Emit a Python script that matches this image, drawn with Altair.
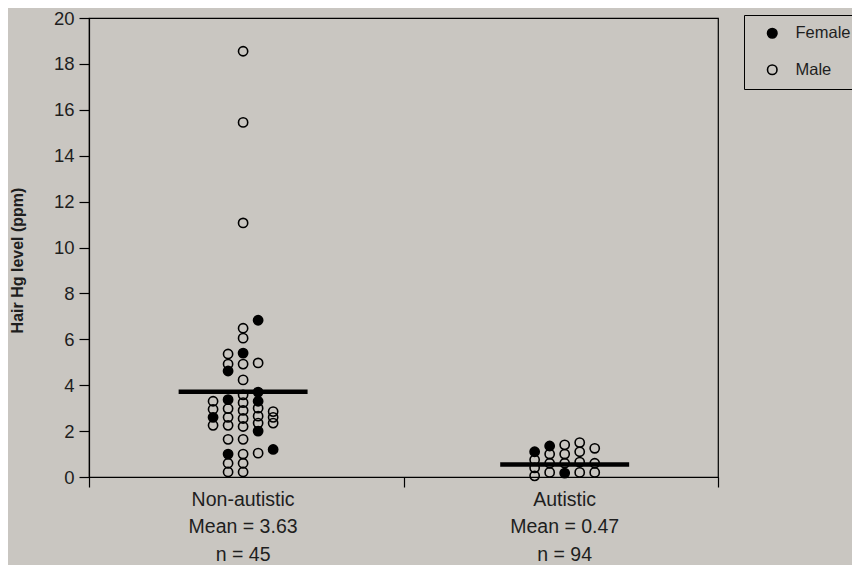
import altair as alt
import pandas as pd

# ---- data ----
categories = ["Non-autistic", "Autistic"]
cat_center = [0.98, 3.025]
mean_text = ["Mean = 3.63", "Mean = 0.47"]
n_text = ["n = 45", "n = 94"]
mean_line = [3.72, 0.55]

# Non-autistic group: value, sex, jitter column
na_values = [18.55, 15.45, 11.07,
             6.83, 6.48, 6.05, 5.4, 5.36, 4.92, 4.62, 4.92, 4.97, 4.23,
             3.3, 2.95, 2.6, 2.25,
             3.37, 2.98, 2.6, 2.25,
             3.58, 3.24, 2.9, 2.55, 2.2,
             3.7, 3.3, 3.0, 2.65, 2.35, 2.0,
             2.85, 2.6, 2.35,
             1.64, 1.64, 1.0, 1.0, 1.04, 1.2, 0.6, 0.6, 0.22, 0.22]
na_sex = ["M", "M", "M",
          "F", "M", "M", "F", "M", "M", "F", "M", "M", "M",
          "M", "M", "F", "M",
          "F", "M", "M", "M",
          "M", "M", "M", "M", "M",
          "F", "F", "M", "M", "M", "F",
          "M", "M", "M",
          "M", "M", "F", "M", "M", "F", "M", "M", "M", "M"]
na_col = [0, 0, 0,
          1, 0, 0, 0, -1, -1, -1, 0, 1, 0,
          -2, -2, -2, -2,
          -1, -1, -1, -1,
          0, 0, 0, 0, 0,
          1, 1, 1, 1, 1, 1,
          2, 2, 2,
          -1, 0, -1, 0, 1, 2, -1, 0, -1, 0]

# Autistic group (visible points)
au_values = [1.1, 0.75, 0.4, 0.05,
             1.35, 1.0, 0.6, 0.2,
             1.4, 1.0, 0.6, 0.17,
             1.5, 1.1, 0.65, 0.2,
             1.25, 0.6, 0.2]
au_sex = ["F", "M", "M", "M",
          "F", "M", "M", "M",
          "M", "M", "M", "F",
          "M", "M", "M", "M",
          "M", "M", "M"]
au_col = [-2, -2, -2, -2,
          -1, -1, -1, -1,
          0, 0, 0, 0,
          1, 1, 1, 1,
          2, 2, 2]

col_step = 0.0955
line_half = 0.41
sex_name = {"F": "Female", "M": "Male"}

rows = []
for vals, sexes, cols, c in [(na_values, na_sex, na_col, cat_center[0]),
                             (au_values, au_sex, au_col, cat_center[1])]:
    for v, s, k in zip(vals, sexes, cols):
        rows.append({"x": c + k * col_step, "value": v, "sex": sex_name[s]})
pts = pd.DataFrame(rows)

means = pd.DataFrame({
    "x1": [c - line_half for c in cat_center],
    "x2": [c + line_half for c in cat_center],
    "y": mean_line,
})

labels = pd.DataFrame({
    "x": cat_center,
    "label": [f"{a}\n{b}\n{c}" for a, b, c in zip(categories, mean_text, n_text)],
})

FONT = "Liberation Sans"
TXT = "#1e1e1e"

xscale = alt.Scale(domain=[0, 4], nice=False, zero=False)
yscale = alt.Scale(domain=[0, 20], nice=False)

points = alt.Chart(pts).mark_point(
    shape="circle", filled=True, size=85, stroke="black", strokeWidth=1.6, opacity=1
).encode(
    x=alt.X("x:Q", scale=xscale,
            axis=alt.Axis(values=[0, 2, 4], labels=False, title=None, grid=False,
                          tickSize=10, domainColor="black", tickColor="black",
                          domainWidth=1.2, tickWidth=1.2)),
    y=alt.Y("value:Q", scale=yscale,
            axis=alt.Axis(values=list(range(0, 21, 2)), grid=False, tickSize=10,
                          labelPadding=5, labelFontSize=18.5, labelFont=FONT,
                          labelColor=TXT, domainColor="black", tickColor="black",
                          domainWidth=1.2, tickWidth=1.2,
                          title="Hair Hg level (ppm)", titleFont=FONT,
                          titleFontSize=16, titleFontWeight="bold", titleColor=TXT,
                          titleAngle=270, titleX=-72, titleY=242,
                          titleAlign="center", titleBaseline="middle")),
    fill=alt.Fill("sex:N",
                  scale=alt.Scale(domain=["Female", "Male"], range=["black", "transparent"]),
                  legend=alt.Legend(title=None, orient="none", legendX=655, legendY=-3,
                                    strokeColor="black", padding=10,
                                    symbolType="circle", symbolSize=90,
                                    symbolStrokeColor="black", symbolStrokeWidth=1.6,
                                    symbolOffset=10, labelOffset=15,
                                    labelFont=FONT, labelFontSize=16.5, labelColor=TXT,
                                    rowPadding=19.5)),
)

rules = alt.Chart(means).mark_rule(color="black", strokeWidth=4.5).encode(
    x=alt.X("x1:Q", scale=xscale), x2="x2:Q", y=alt.Y("y:Q", scale=yscale)
)

texts = alt.Chart(labels).mark_text(
    lineBreak="\n", lineHeight=27.5, fontSize=19.5, font=FONT, color=TXT,
    align="center", baseline="top"
).encode(
    x=alt.X("x:Q", scale=xscale), y=alt.value(472.5), text="label:N"
)

chart = alt.layer(rules, points, texts).properties(
    width=629, height=459,
    background="#c9c6c1",
    autosize=alt.AutoSizeParams(type="none"),
    padding={"left": 81, "top": 10, "right": 134, "bottom": 88},
).configure_view(stroke="black", strokeWidth=1.2)

chart.save("out.html", embed_options={"renderer": "svg", "actions": False})
